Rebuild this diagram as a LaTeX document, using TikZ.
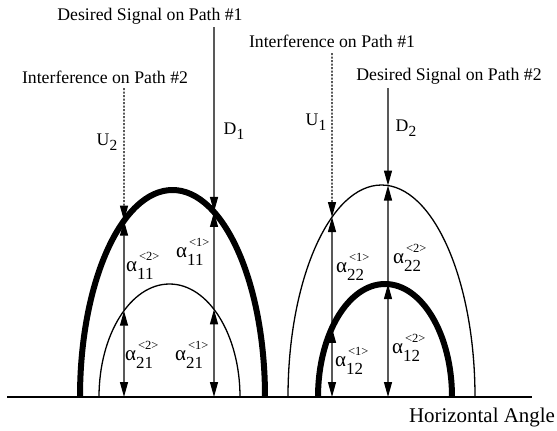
\documentclass[tikz,border=0pt]{standalone}
\usepackage{fontspec}
\setmainfont{Liberation Serif}
\usetikzlibrary{arrows.meta,intersections}

% gain label: alpha with a small <k> above and the index pair below
\newcommand\alab[2]{{\fontsize{21}{21}\selectfont α}\rlap{\hspace{2bp}\raisebox{10.5bp}{\fontsize{12.5}{12.5}\selectfont<#1>}}\raisebox{-8bp}{\fontsize{17}{17}\selectfont #2}}
% signal label with a lowered index
\newcommand\sublab[2]{#1\raisebox{-5bp}{\fontsize{15.5}{15.5}\selectfont #2}}

\begin{document}
\begin{tikzpicture}[x=1bp,y=-1bp,
  txt/.style={font=\fontsize{17.8}{20}\selectfont, inner sep=0pt},
  bigtxt/.style={font=\fontsize{21}{23}\selectfont, inner sep=0pt},
  lab/.style={inner sep=0pt, anchor=west},
  thickarch/.style={line width=6bp},
  thinarch/.style={line width=1.3bp},
  tip/.tip={Triangle[length=15bp,width=8bp]},
  ray/.style={line width=1.2bp, -tip},
  dotray/.style={ray, dash pattern=on 2.2bp off 1.3bp},
  dbl/.style={line width=1.2bp, tip-tip}
]
\useasboundingbox (0,0) rectangle (557,430);

% ground line
\coordinate (g0) at (7,397);
\coordinate (g1) at (532,397);
\draw[line width=1.3bp] (g0) -- (g1);

% antenna patterns
\draw[thickarch, name path=LA] (80,397) arc[start angle=180, end angle=360, x radius=92.5, y radius=207];
\draw[thinarch, name path=LB] (99,397) arc[start angle=180, end angle=360, x radius=70.5, y radius=113];
\draw[thinarch, name path=RA] (288,397) arc[start angle=180, end angle=360, x radius=93.5, y radius=212];
\draw[thickarch, name path=RB] (318,397) arc[start angle=180, end angle=360, x radius=67, y radius=113];

% vertical guides
\path[name path=V1] (124,0) -- (124,400);
\path[name path=V2] (214,0) -- (214,400);
\path[name path=V3] (332,0) -- (332,400);
\path[name path=V4] (388,0) -- (388,400);

\path[name intersections={of=LA and V1, by=a1}];
\path[name intersections={of=LB and V1, by=b1}];
\path[name intersections={of=LA and V2, by=a2}];
\path[name intersections={of=LB and V2, by=b2}];
\path[name intersections={of=RA and V3, by=a3}];
\path[name intersections={of=RB and V3, by=b3}];
\path[name intersections={of=RA and V4, by=a4}];
\path[name intersections={of=RB and V4, by=b4}];

\coordinate (f1) at (124,397);
\coordinate (f2) at (214,397);
\coordinate (f3) at (332,397);
\coordinate (f4) at (388,397);

% incoming signals
\coordinate (s1) at (124,88);
\coordinate (s2) at (214,27);
\coordinate (s3) at (332,53);
\coordinate (s4) at (388,88);
\draw[dotray] (s1) -- (a1);
\draw[ray] (s2) -- (a2);
\draw[dotray] (s3) -- (a3);
\draw[ray] (s4) -- (a4);

% gains
\draw[ray] (b1) -- (a1);
\draw[dbl] (f1) -- (b1);
\draw[ray] (b2) -- (a2);
\draw[dbl] (f2) -- (b2);
\draw[ray] (b3) -- (a3);
\draw[dbl] (f3) -- (b3);
\draw[ray] (b4) -- (a4);
\draw[dbl] (f4) -- (b4);

% captions
\node[txt] (t1) at (150,16) {Desired Signal on Path \#1};
\node[txt] (t2) at (105,77) {Interference on Path \#2};
\node[txt] (t3) at (332,41) {Interference on Path \#1};
\node[txt] (t4) at (449,76) {Desired Signal on Path \#2};
\node[bigtxt] (t5) at (482,417) {Horizontal Angle};

\node[txt] (u2) at (107,142) {\sublab{U}{2}};
\node[txt] (d1) at (234,131) {\sublab{D}{1}};
\node[txt] (u1) at (316,122) {\sublab{U}{1}};
\node[txt] (d2) at (406,128) {\sublab{D}{2}};

\node[lab] (l1) at (126,266) {\alab{2}{11}};
\node[lab] (l2) at (176,252) {\alab{1}{11}};
\node[lab] (l3) at (125,355) {\alab{2}{21}};
\node[lab] (l4) at (175,355) {\alab{1}{21}};
\node[lab] (l5) at (336,267) {\alab{1}{22}};
\node[lab] (l6) at (393,258) {\alab{2}{22}};
\node[lab] (l7) at (335,361) {\alab{1}{12}};
\node[lab] (l8) at (392,348) {\alab{2}{12}};
\end{tikzpicture}
\end{document}
